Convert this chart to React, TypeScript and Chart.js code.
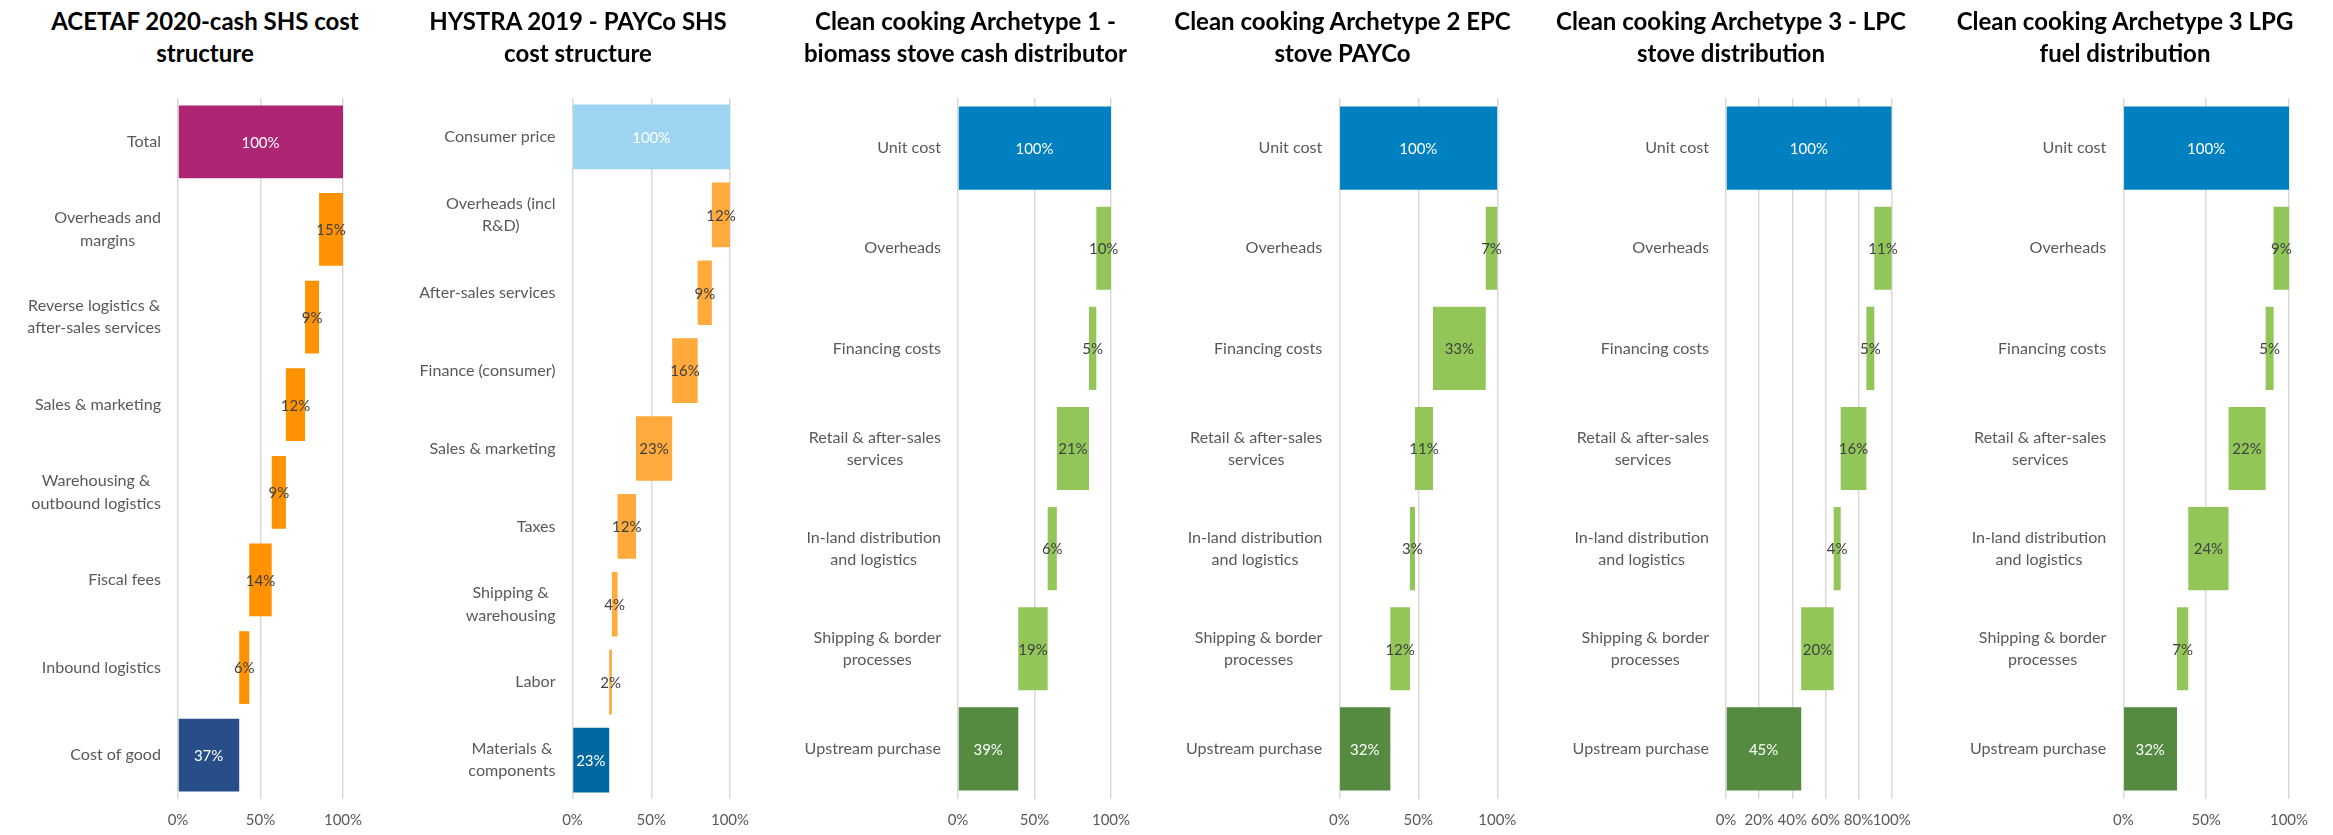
import React, { useEffect, useRef, useMemo } from 'react';
import { Chart, registerables } from 'chart.js';

Chart.register(...registerables);

const FONT = 'Lato, "Open Sans", "DejaVu Sans", sans-serif';

// ---------- Data ----------
// Panel 1
const p1Title = ['ACETAF 2020-cash SHS cost', 'structure'];
const p1Categories: (string | string[])[] = [
  'Total',
  ['Overheads and', 'margins'],
  ['Reverse logistics &', 'after-sales services'],
  'Sales & marketing',
  ['Warehousing &', 'outbound logistics'],
  'Fiscal fees',
  'Inbound logistics',
  'Cost of good',
];
const p1Values = [100, 14.5, 8.5, 11.6, 8.6, 13.6, 6.1, 37.1];
const p1Colors = ['#AE2573', '#FF9200', '#274E89'];
const p1TickStep = 50;

// Panel 2
const p2Title = ['HYSTRA 2019 - PAYCo SHS', 'cost structure'];
const p2Categories: (string | string[])[] = [
  'Consumer price',
  ['Overheads (incl', 'R&D)'],
  'After-sales services',
  'Finance (consumer)',
  'Sales & marketing',
  'Taxes',
  ['Shipping &', 'warehousing'],
  'Labor',
  ['Materials &', 'components'],
];
const p2Values = [100, 11.5, 9.0, 16.2, 23.0, 11.7, 3.6, 1.7, 23.3];
const p2Colors = ['#9DD4F1', '#FFAA3C', '#0068A0'];
const p2TickStep = 50;

// Clean cooking categories (panels 3-6)
const ccCategories: (string | string[])[] = [
  'Unit cost',
  'Overheads',
  'Financing costs',
  ['Retail & after-sales', 'services'],
  ['In-land distribution', 'and logistics'],
  ['Shipping & border', 'processes'],
  'Upstream purchase',
];
const ccColors = ['#0080C0', '#92C659', '#548B41'];

// Panel 3
const p3Title = ['Clean cooking Archetype 1 -', 'biomass stove cash distributor'];
const p3Values = [100, 9.6, 4.8, 21.0, 6.0, 19.2, 39.4];
const p3TickStep = 50;

// Panel 4
const p4Title = ['Clean cooking Archetype 2 EPC', 'stove PAYCo'];
const p4Values = [100, 7.3, 33.4, 11.4, 3.2, 12.4, 32.3];
const p4TickStep = 50;

// Panel 5
const p5Title = ['Clean cooking Archetype 3 - LPC', 'stove distribution'];
const p5Values = [100, 10.5, 4.8, 15.5, 4.2, 19.6, 45.4];
const p5TickStep = 20;

// Panel 6
const p6Title = ['Clean cooking Archetype 3 LPG', 'fuel distribution'];
const p6Values = [100, 9.3, 4.8, 22.4, 24.3, 6.8, 32.4];
const p6TickStep = 50;

// ---------- Layout (positions only) ----------
type PanelCfg = {
  title: string[];
  categories: (string | string[])[];
  values: number[];
  colors: string[];
  step: number;
  x0: number;
  x1: number;
  plotLeft: number;
  plotRight: number;
  titleCx: number;
};

const panels: PanelCfg[] = [
  { title: p1Title, categories: p1Categories, values: p1Values, colors: p1Colors, step: p1TickStep, x0: 0, x1: 385, plotLeft: 178, plotRight: 343, titleCx: 205 },
  { title: p2Title, categories: p2Categories, values: p2Values, colors: p2Colors, step: p2TickStep, x0: 390, x1: 772, plotLeft: 572.5, plotRight: 730, titleCx: 578 },
  { title: p3Title, categories: ccCategories, values: p3Values, colors: ccColors, step: p3TickStep, x0: 776, x1: 1153, plotLeft: 958, plotRight: 1111, titleCx: 965.5 },
  { title: p4Title, categories: ccCategories, values: p4Values, colors: ccColors, step: p4TickStep, x0: 1160, x1: 1539, plotLeft: 1339.3, plotRight: 1497.3, titleCx: 1342.5 },
  { title: p5Title, categories: ccCategories, values: p5Values, colors: ccColors, step: p5TickStep, x0: 1545, x1: 1934, plotLeft: 1726, plotRight: 1891.7, titleCx: 1731 },
  { title: p6Title, categories: ccCategories, values: p6Values, colors: ccColors, step: p6TickStep, x0: 1938, x1: 2330, plotLeft: 2123.3, plotRight: 2289, titleCx: 2125 },
];

const PLOT_TOP = 98;
const X_AXIS_H = 36;
const LABEL_GAP = 17;
const LABEL_LINE_H = 22.4;

// Font-size calibration: text samples with their rendered widths (px) in the reference
const LABEL_FIT: [string, number][] = [
  ['Total', 35],
  ['Overheads and', 107.4],
  ['Reverse logistics &', 131.7],
  ['after-sales services', 135],
  ['Sales & marketing', 128.3],
  ['outbound logistics', 130],
  ['Fiscal fees', 71.7],
  ['Inbound logistics', 120],
  ['Cost of good', 89],
  ['Unit cost', 62.7],
  ['Overheads', 75.3],
  ['Financing costs', 107],
  ['Retail & after-sales', 134.3],
  ['In-land distribution', 136],
  ['Upstream purchase', 138.3],
];
const NUMBER_FIT: [string, number][] = [
  ['100%', 37.7],
  ['50%', 30],
];
const TITLE_FIT: [string, number][] = [
  ['ACETAF 2020-cash SHS cost', 300],
  ['HYSTRA 2019 - PAYCo SHS', 286.7],
  ['biomass stove cash distributor', 336],
  ['Clean cooking Archetype 2 EPC', 338],
  ['Clean cooking Archetype 3 - LPC', 351.7],
  ['Clean cooking Archetype 3 LPG', 340],
];

function fitSize(samples: [string, number][], weight: string): number {
  const c = document.createElement('canvas').getContext('2d')!;
  c.font = `${weight} 100px ${FONT}`;
  let m = 0;
  let t = 0;
  samples.forEach(([s, w]) => {
    m += c.measureText(s).width;
    t += w;
  });
  return Math.round((100 * t) / m * 10) / 10;
}

type Sizes = { label: number; num: number; title: number };

function waterfall(values: number[]): [number, number][] {
  const n = values.length;
  const out: [number, number][] = new Array(n);
  let cum = 0;
  for (let i = n - 1; i >= 1; i--) {
    out[i] = [cum, cum + values[i]];
    cum += values[i];
  }
  out[0] = [0, values[0]];
  return out;
}

const labelsPlugin = {
  id: 'wfLabels',
  afterDatasetsDraw(chart: any) {
    const ctx = chart.ctx as CanvasRenderingContext2D;
    const area = chart.chartArea;
    const ys = chart.scales.y;
    const xs = chart.scales.x;
    const ds = chart.data.datasets[0];
    const sizes: Sizes = ds.sizes;
    ctx.save();
    ctx.textBaseline = 'middle';
    ctx.textAlign = 'center';
    // category labels (block right-aligned, lines centred)
    ctx.font = `${sizes.label}px ${FONT}`;
    chart.data.labels.forEach((lab: any, i: number) => {
      const lines: string[] = Array.isArray(lab) ? lab : [lab];
      const w = Math.max(...lines.map((l) => ctx.measureText(l).width));
      const cx = area.left - LABEL_GAP - w / 2;
      const cy = ys.getPixelForValue(i);
      ctx.fillStyle = '#595959';
      lines.forEach((l, j) => {
        ctx.fillText(l, cx, cy + (j - (lines.length - 1) / 2) * LABEL_LINE_H);
      });
    });
    // value labels
    ctx.font = `${sizes.num}px ${FONT}`;
    ds.data.forEach((r: [number, number], i: number) => {
      const cx = (xs.getPixelForValue(r[0]) + xs.getPixelForValue(r[1])) / 2;
      const cy = ys.getPixelForValue(i);
      ctx.fillStyle = ds.valueLabelColors[i];
      ctx.fillText(ds.valueLabels[i], cx, cy + 1);
    });
    ctx.restore();
  },
};

function Panel({ cfg, sizes }: { cfg: PanelCfg; sizes: Sizes }) {
  const ref = useRef<HTMLCanvasElement>(null);
  const width = cfg.x1 - cfg.x0;
  useEffect(() => {
    const canvas = ref.current!;
    const n = cfg.values.length;
    const ranges = waterfall(cfg.values);
    const colors = cfg.values.map((_, i) => (i === 0 ? cfg.colors[0] : i === n - 1 ? cfg.colors[2] : cfg.colors[1]));
    const valueLabelColors = cfg.values.map((_, i) => (i === 0 || i === n - 1 ? '#FFFFFF' : '#404040'));
    const valueLabels = cfg.values.map((v) => Math.round(v) + '%');
    const yWidth = cfg.plotLeft - cfg.x0;
    const chart = new Chart(canvas, {
      type: 'bar',
      data: {
        labels: cfg.categories as any,
        datasets: [
          {
            data: ranges as any,
            backgroundColor: colors,
            borderWidth: 0,
            barPercentage: 0.83,
            categoryPercentage: 1,
            valueLabels,
            valueLabelColors,
            sizes,
          } as any,
        ],
      },
      options: {
        indexAxis: 'y',
        responsive: false,
        maintainAspectRatio: false,
        animation: false,
        layout: { padding: { left: 0, right: cfg.x1 - cfg.plotRight, top: PLOT_TOP, bottom: 0 } },
        plugins: { legend: { display: false }, tooltip: { enabled: false }, title: { display: false } },
        scales: {
          x: {
            type: 'linear',
            min: 0,
            max: 100,
            position: 'bottom',
            ticks: {
              stepSize: cfg.step,
              autoSkip: false,
              maxRotation: 0,
              minRotation: 0,
              padding: 12,
              color: '#595959',
              font: { family: FONT, size: sizes.num },
              callback: (v: any) => v + '%',
            },
            grid: { color: '#D9D9D9', lineWidth: 1.5, drawTicks: false },
            border: { display: false },
            afterFit: (s: any) => {
              s.height = X_AXIS_H;
            },
          },
          y: {
            type: 'category',
            ticks: { display: false },
            grid: { display: false },
            border: { display: false },
            afterFit: (s: any) => {
              s.width = yWidth;
            },
          },
        },
      } as any,
      plugins: [labelsPlugin],
    });
    return () => chart.destroy();
  }, []);
  return (
    <>
      <div
        style={{
          position: 'absolute',
          left: cfg.titleCx - 230,
          top: 5,
          width: 460,
          textAlign: 'center',
          fontFamily: FONT,
          fontWeight: 700,
          fontSize: sizes.title,
          lineHeight: '32px',
          color: '#000000',
          whiteSpace: 'nowrap',
        }}
      >
        {cfg.title[0]}
        <br />
        {cfg.title[1]}
      </div>
      <canvas
        ref={ref}
        width={width}
        height={835}
        style={{ position: 'absolute', left: cfg.x0, top: 0, width, height: 835 }}
      />
    </>
  );
}

export default function App() {
  const sizes = useMemo<Sizes>(
    () => ({
      label: fitSize(LABEL_FIT, 'normal'),
      num: fitSize(NUMBER_FIT, 'normal'),
      title: fitSize(TITLE_FIT, 'bold'),
    }),
    []
  );
  return (
    <div style={{ position: 'absolute', left: 0, top: 0, width: 2333, height: 835, background: '#FFFFFF', overflow: 'hidden' }}>
      {panels.map((p, i) => (
        <Panel key={i} cfg={p} sizes={sizes} />
      ))}
    </div>
  );
}
